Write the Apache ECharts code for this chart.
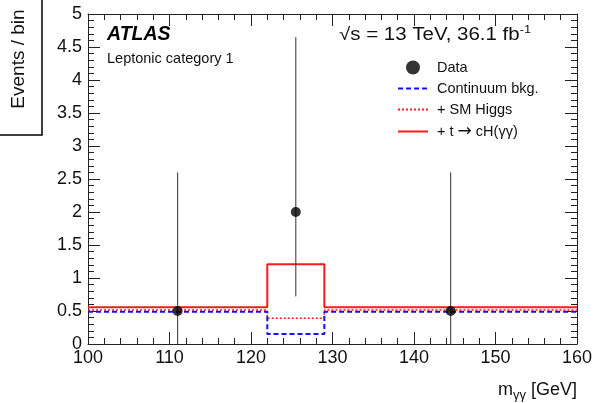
<!DOCTYPE html>
<html><head><meta charset="utf-8">
<script src="https://cdn.jsdelivr.net/npm/echarts@6/dist/echarts.min.js"></script>
<style>html,body{margin:0;padding:0;background:#fff}#c{width:596px;height:403px}</style>
</head><body><div id="c"></div>
<script>
const binEdges = [100, 122, 129, 160];
const continuumBkg = [0.49, 0.15, 0.49];
const smHiggs = [0.515, 0.39, 0.515];
const signalTotal = [0.555, 1.21, 0.555];
const dataX = [111, 125.5, 144.5];
const dataY = [0.5, 2.0, 0.5];
const dataErrLow = [0.0, 0.72, 0.0];
const dataErrHigh = [2.6, 4.65, 2.6];

function stepPoints(edges, vals) {
  const pts = [];
  for (let i = 0; i < vals.length; i++) {
    pts.push([edges[i], vals[i]]);
    pts.push([edges[i + 1], vals[i]]);
  }
  return pts;
}

const FONT = 'Liberation Sans';
const chart = echarts.init(document.getElementById('c'), null, {renderer: 'canvas'});
const minor = {show: true, splitNumber: 5, length: 6, lineStyle: {color: '#222'}};
const axisCommon = {
  axisLine: {show: true, onZero: false, lineStyle: {color: '#222', width: 1}},
  axisTick: {show: true, inside: true, length: 12, lineStyle: {color: '#222'}},
  minorTick: minor,
  splitLine: {show: false},
};
const sigName = '+ t \u2192 cH(\u03b3\u03b3)';
chart.setOption({
  animation: false,
  grid: {left: 88, right: 19, top: 14, bottom: 59},
  xAxis: [
    Object.assign({type: 'value', min: 100, max: 160, interval: 10, position: 'bottom',
      axisLabel: {color: '#111', fontFamily: FONT, fontSize: 18, margin: 5}}, axisCommon),
    Object.assign({type: 'value', min: 100, max: 160, interval: 10, position: 'top',
      axisLabel: {show: false}}, axisCommon)
  ],
  yAxis: [
    Object.assign({type: 'value', min: 0, max: 5, interval: 0.5, position: 'left',
      axisLabel: {color: '#111', fontFamily: FONT, fontSize: 18, margin: 6}}, axisCommon),
    Object.assign({type: 'value', min: 0, max: 5, interval: 0.5, position: 'right',
      axisLabel: {show: false}}, axisCommon)
  ],
  legend: {
    orient: 'vertical', left: 397, top: 60, padding: 0, itemWidth: 30, itemHeight: 14, itemGap: 6,
    textStyle: {fontFamily: FONT, fontSize: 14.5, color: '#111', lineHeight: 14, padding: [0, 0, 0, 4],
      rich: {a: {fontFamily: 'DejaVu Sans', fontSize: 17, color: '#111', lineHeight: 14}}},
    formatter: function (name) { return name.replace('\u2192', '{a|\u2192}'); },
    data: [
      {name: 'Data', icon: 'circle', itemStyle: {color: '#000'}},
      {name: 'Continuum bkg.', itemStyle: {opacity: 0}},
      {name: '+ SM Higgs', itemStyle: {opacity: 0}},
      {name: sigName, itemStyle: {opacity: 0}}
    ]
  },
  series: [
    {name: 'Continuum bkg.', type: 'line', data: stepPoints(binEdges, continuumBkg), symbol: 'none',
      lineStyle: {color: '#1010ff', width: 2, type: [5, 3]}, itemStyle: {color: '#1010ff'}, z: 3},
    {name: '+ SM Higgs', type: 'line', data: stepPoints(binEdges, smHiggs), symbol: 'none',
      lineStyle: {color: '#ff2020', width: 1.5, type: [2, 2]}, itemStyle: {color: '#ff2020'}, z: 2},
    {name: sigName, type: 'line', data: stepPoints(binEdges, signalTotal), symbol: 'none',
      lineStyle: {color: '#ff1a1a', width: 2}, itemStyle: {color: '#ff1a1a'}, z: 2},
    {type: 'custom', z: 4,
      data: dataX.map((x, i) => [x, dataErrLow[i], dataErrHigh[i]]),
      renderItem: function (params, api) {
        const a = api.coord([api.value(0), api.value(1)]);
        const b = api.coord([api.value(0), api.value(2)]);
        return {type: 'line', shape: {x1: a[0], y1: a[1], x2: b[0], y2: b[1]},
          style: {stroke: '#333', lineWidth: 1}};
      }},
    {name: 'Data', type: 'scatter', data: dataX.map((x, i) => [x, dataY[i]]), symbol: 'circle', symbolSize: 10,
      itemStyle: {color: '#000'}, z: 5}
  ],
  graphic: [
    {type: 'rect', shape: {x: -2, y: -2, width: 44, height: 137}, style: {fill: 'none', stroke: '#000', lineWidth: 1.5}},
    {type: 'text', x: 19, y: 59, rotation: Math.PI / 2,
      style: {text: 'Events / bin', fontFamily: FONT, fontSize: 19, fill: '#111', align: 'center', verticalAlign: 'middle'}},
    {type: 'text', x: 107, y: 35, style: {text: 'ATLAS', fontFamily: FONT, fontSize: 19.5, fontWeight: 'bold', fontStyle: 'italic', fill: '#000', verticalAlign: 'middle'}},
    {type: 'text', x: 107, y: 59, style: {text: 'Leptonic category 1', fontFamily: FONT, fontSize: 14.5, fill: '#111', verticalAlign: 'middle'}},
    {type: 'text', x: 339, y: 35, scaleX: 1.17, style: {text: '\u221as = 13 TeV, 36.1 fb{sup|-1}', fontFamily: FONT, fontSize: 17.5, fill: '#111', verticalAlign: 'middle',
      rich: {sup: {fontFamily: FONT, fontSize: 11, fill: '#111', verticalAlign: 'top', padding: [0, 0, 10, 0]}}}},
    {type: 'text', right: 19, top: 381, style: {text: 'm{sub|\u03b3\u03b3} [GeV]', fontFamily: FONT, fontSize: 18, fill: '#111',
      rich: {sub: {fontFamily: FONT, fontSize: 13, fill: '#111', padding: [10, 0, 0, 0]}}}}
  ]
});
</script></body></html>
